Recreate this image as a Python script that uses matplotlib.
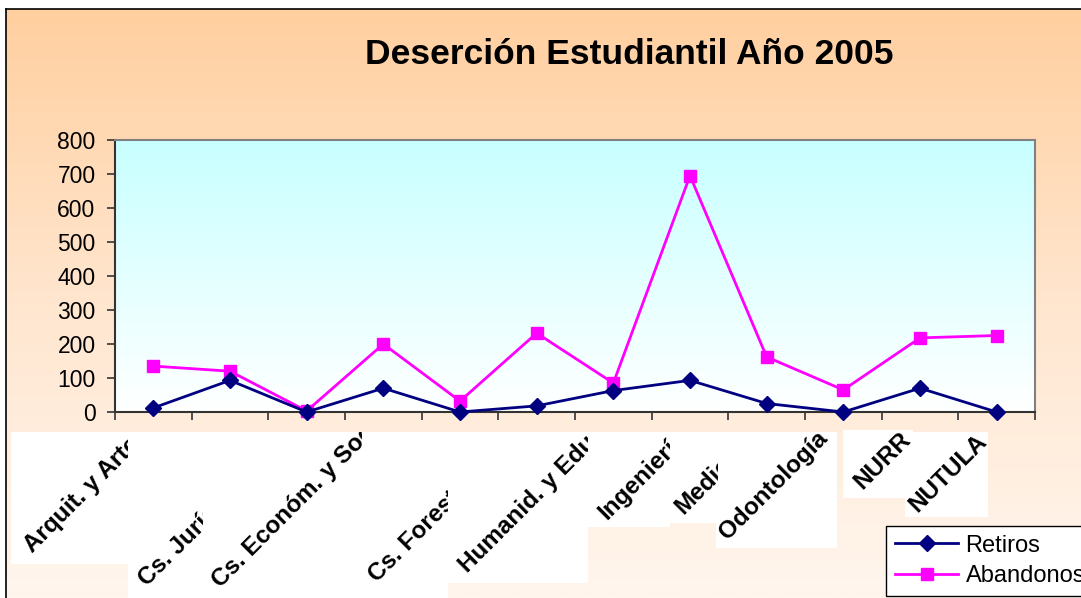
import numpy as np
import matplotlib
matplotlib.use("Agg")
import matplotlib.pyplot as plt
from matplotlib.patches import Rectangle
from matplotlib.colors import LinearSegmentedColormap

# ---------------- data ----------------
title = "Deserción Estudiantil Año 2005"
labels = ["Arquit. y Arte", "Cs. Jurídicas", "Cs. Económ. y Sociales", "Cs. Forestales",
          "Humanid. y Educ.", "Ingeniería", "Medicina", "Odontología", "NURR", "NUTULA"]
retiros = [12, 93, 0, 70, 0, 18, 63, 93, 25, 0, 70, 0]
abandonos = [135, 120, 3, 200, 32, 232, 85, 695, 162, 65, 218, 225]
yticks = [0, 100, 200, 300, 400, 500, 600, 700, 800]

W, H = 1081, 598
fig = plt.figure(figsize=(W / 100, H / 100), dpi=100)
fig.patch.set_facecolor("white")

def fx(x):
    return x / W

def fy(y):
    return 1 - y / H

# background axes (pixel coordinates)
bg = fig.add_axes([0, 0, 1, 1], zorder=-10)
bg.set_xlim(0, W)
bg.set_ylim(H, 0)
bg.axis("off")
cm_bg = LinearSegmentedColormap.from_list("bg", ["#FFCF9F", "#FFE6CF", "#FFF6EE"])
grad = np.linspace(0, 1, 256).reshape(-1, 1)
bg.imshow(grad, cmap=cm_bg, extent=[6, W, H, 9], aspect="auto", zorder=0)
bg.plot([6, 6], [9, H], color="black", lw=1.2, zorder=2)
bg.plot([6, W], [9, 9], color="black", lw=1.2, zorder=2)

fig.text(fx(629), fy(54), title, ha="center", va="center", fontsize=25.5,
         fontweight="bold", family="Liberation Sans")

# main axes
ax = fig.add_axes([fx(115), fy(412), fx(1035) - fx(115), fy(140) - fy(412)])
x = np.arange(len(retiros))
ax.set_xlim(-0.5, len(retiros) - 0.5)
ax.set_ylim(0, 800)
cm_pa = LinearSegmentedColormap.from_list("pa", ["#C8FFFF", "#FFFFFF"])
ax.imshow(grad, cmap=cm_pa, extent=[-0.5, len(retiros) - 0.5, 0, 800], aspect="auto", zorder=0)
ax.set_facecolor("none")

l1, = ax.plot(x, retiros, color="#000080", lw=2, marker="D", markersize=8,
              label="Retiros", zorder=3, clip_on=False)
l2, = ax.plot(x, abandonos, color="#FF00FF", lw=2, marker="s", markersize=9,
              label="Abandonos", zorder=2, clip_on=False)

ax.set_yticks(yticks)
ax.set_yticklabels([str(v) for v in yticks], fontsize=16.5, family="Liberation Sans")
ax.set_xticks(np.arange(-0.5, len(retiros) + 0.5, 1))
ax.set_xticklabels([])
ax.tick_params(axis="both", direction="out", length=6, width=1.2, color="#333333")
ax.tick_params(axis="y", pad=8)
for s in ["left", "bottom"]:
    ax.spines[s].set_color("#333333")
    ax.spines[s].set_linewidth(1.5)
for s in ["top", "right"]:
    ax.spines[s].set_color("#808080")
    ax.spines[s].set_linewidth(1.5)

# category labels on white boxes (clipped like the original)
boxes = [(11, 432, 128, 564), (128, 432, 203, 598), (203, 432, 362, 598),
         (362, 432, 448, 598), (448, 432, 588, 583), (588, 432, 670, 527),
         (670, 432, 718, 523), (716, 432, 837, 548), (843, 430, 913, 498),
         (905, 432, 988, 517)]
starts = [(32, 553), (147, 587), (220, 588), (377, 583), (467, 573), (607, 520),
          (683, 515), (727, 540), (862, 490), (917, 513)]
for lab, (x0, y0, x1, y1), (sx, sy) in zip(labels, boxes, starts):
    r = Rectangle((fx(x0), fy(y1)), fx(x1) - fx(x0), fy(y0) - fy(y1),
                  transform=fig.transFigure, facecolor="white", edgecolor="none", zorder=1)
    fig.add_artist(r)
    t = fig.text(fx(sx), fy(sy), lab, rotation=45, rotation_mode="anchor",
                 ha="left", va="baseline", fontsize=17.5, fontweight="bold",
                 family="Liberation Sans", zorder=2)
    clip = Rectangle((fx(x0), fy(y1)), fx(x1) - fx(x0), fy(y0) - fy(y1),
                     transform=fig.transFigure)
    t.set_clip_path(clip)
    t.set_clip_on(True)

leg = fig.legend(handles=[l1, l2], loc="upper left",
                 bbox_to_anchor=(fx(886), fy(526)), bbox_transform=fig.transFigure,
                 borderaxespad=0, frameon=True, fancybox=False, framealpha=1,
                 edgecolor="black", facecolor="white",
                 prop={"family": "Liberation Sans", "size": 17},
                 handlelength=2.7, handletextpad=0.3, borderpad=0.37, labelspacing=0.37)
leg.get_frame().set_linewidth(1)

fig.savefig("out.png", dpi=100)
